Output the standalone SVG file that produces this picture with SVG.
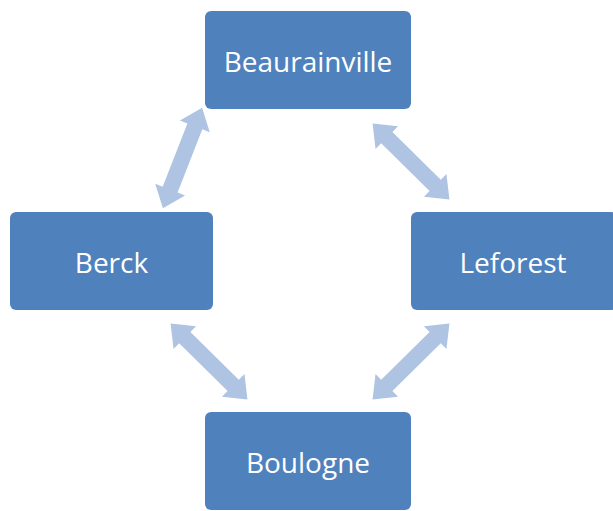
<svg xmlns="http://www.w3.org/2000/svg" width="613" height="511" viewBox="0 0 613 511">
<style>
.box{fill:#4F81BD;}
.lbl{fill:#FFFFFF;font-family:"Open Sans","Noto Sans",sans-serif;font-size:28px;text-anchor:middle;dominant-baseline:central;}
.arr{fill:#AFC3E2;}
</style>
<defs>
<path id="dbl" d="M-54,0 L-34,-16 L-34,-8 L34,-8 L34,-16 L54,0 L34,16 L34,8 L-34,8 L-34,16 Z"/>
</defs>
<rect width="613" height="511" fill="#FFFFFF"/>
<g id="connectors">
<use href="#dbl" class="arr" transform="translate(182.5,158) rotate(-68.7)"/>
<use href="#dbl" class="arr" transform="translate(411,161.5) rotate(44.6)"/>
<use href="#dbl" class="arr" transform="translate(209,361.5) rotate(44.6)"/>
<use href="#dbl" class="arr" transform="translate(411,361.5) rotate(-44.6)"/>
</g>
<g id="beaurainville">
<rect class="box" x="205" y="11" width="206" height="98" rx="6"/>
<text class="lbl" x="308" y="61">Beaurainville</text>
</g>
<g id="berck">
<rect class="box" x="10" y="212" width="203" height="98" rx="6"/>
<text class="lbl" x="111.5" y="262">Berck</text>
</g>
<g id="leforest">
<rect class="box" x="411" y="212" width="206" height="98" rx="6"/>
<text class="lbl" x="513" y="262">Leforest</text>
</g>
<g id="boulogne">
<rect class="box" x="205" y="412" width="206" height="98" rx="6"/>
<text class="lbl" x="308" y="462">Boulogne</text>
</g>
</svg>
